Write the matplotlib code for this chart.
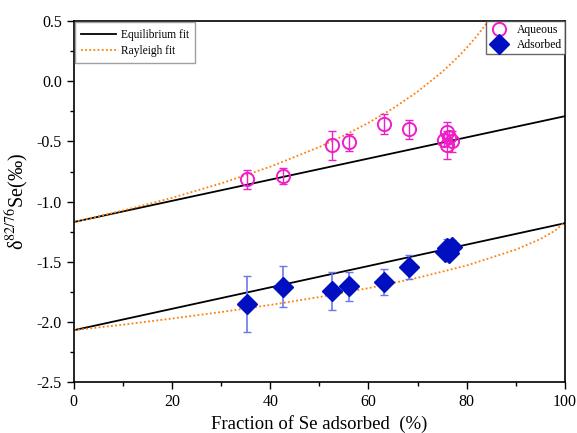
import numpy as np
import matplotlib
matplotlib.use('Agg')
import matplotlib.pyplot as plt
from matplotlib.ticker import MultipleLocator

plt.rcParams['font.family'] = ['Liberation Serif', 'DejaVu Serif']
plt.rcParams['mathtext.fontset'] = 'stix'

# measured points (fraction adsorbed %, delta, error)
aq_x = [35.2, 42.6, 52.5, 56.0, 63.1, 68.2, 75.9, 75.4, 76.0, 77.0, 76.5]
aq_y = [-0.816, -0.788, -0.531, -0.508, -0.354, -0.398, -0.42, -0.49, -0.53, -0.50, -0.46]
aq_err = [0.08, 0.065, 0.12, 0.07, 0.08, 0.08, 0.08, 0.05, 0.12, 0.09, 0.05]

ads_x = [35.2, 42.6, 52.5, 56.0, 63.1, 68.3, 75.5, 76.0, 77.0, 76.5]
ads_y = [-1.852, -1.708, -1.742, -1.703, -1.667, -1.545, -1.42, -1.39, -1.38, -1.43]
ads_err = [0.23, 0.17, 0.16, 0.12, 0.11, 0.10, 0.05, 0.08, 0.06, 0.04]

# fit curves
eq_x = [0, 100]
eq_aq = [-1.17, -0.29]
eq_ads = [-2.07, -1.18]

ray_aq_x = [0, 10, 20, 30, 40, 50, 55, 60, 65, 70, 75, 78, 80, 82, 84, 85]
ray_aq_y = [-1.17, -1.075, -0.969, -0.849, -0.710, -0.546, -0.451, -0.345, -0.225,
            -0.086, 0.078, 0.193, 0.279, 0.373, 0.479, 0.538]
ray_ads_x = [0, 10, 20, 30, 40, 50, 60, 70, 80, 90, 95, 98, 100]
ray_ads_y = [-2.07, -2.024, -1.973, -1.919, -1.860, -1.794, -1.720, -1.634, -1.532,
             -1.400, -1.312, -1.242, -1.17]

fig = plt.figure(figsize=(5.77, 4.33), dpi=100)
ax = fig.add_axes([0.128, 0.118, 0.851, 0.833])

l1, = ax.plot(eq_x, eq_aq, color='black', lw=1.3, label='Equilibrium fit')
ax.plot(eq_x, eq_ads, color='black', lw=1.3)
l2, = ax.plot(ray_aq_x, ray_aq_y, color='#ff7f0e', lw=1.3, ls=(0, (1, 1.3)), label='Rayleigh fit')
ax.plot(ray_ads_x, ray_ads_y, color='#ff7f0e', lw=1.3, ls=(0, (1, 1.3)))

ax.errorbar(aq_x, aq_y, yerr=aq_err, fmt='none', ecolor='#f01ec8', elinewidth=1, capsize=3, zorder=3)
p1, = ax.plot(aq_x, aq_y, 'o', ms=9.5, mfc='none', mec='#f01ec8', mew=1.4, ls='none', label='Aqueous', zorder=4)
ax.errorbar(ads_x, ads_y, yerr=ads_err, fmt='none', ecolor='#6a78f0', elinewidth=1.2, capsize=3, zorder=3)
p2, = ax.plot(ads_x, ads_y, 'D', ms=10, color='#0010c0', ls='none', label='Adsorbed', zorder=4)

ax.set_xlim(0, 100)
ax.set_ylim(-2.5, 0.5)
ax.xaxis.set_major_locator(MultipleLocator(20))
ax.xaxis.set_minor_locator(MultipleLocator(10))
ax.yaxis.set_major_locator(MultipleLocator(0.5))
ax.yaxis.set_minor_locator(MultipleLocator(0.25))
ax.yaxis.set_major_formatter(matplotlib.ticker.FormatStrFormatter('%.1f'))
ax.tick_params(which='major', direction='out', length=5, width=1, labelsize=11.5)
ax.tick_params(which='minor', direction='out', length=3, width=1)
for s in ax.spines.values():
    s.set_linewidth(1.2)

ax.set_xlabel('Fraction of Se adsorbed  (%)', fontsize=13.5)
ax.set_ylabel('δ$^{\\mathrm{82/76}}$Se(‰)', fontsize=14.5)

leg1 = ax.legend(handles=[l1, l2], loc='upper left', fontsize=8.3, frameon=True,
                 fancybox=False, edgecolor='#888888', borderaxespad=0.1, handlelength=3.0,
                 labelspacing=0.35, borderpad=0.55, handletextpad=0.4)
leg1.get_frame().set_linewidth(1)
ax.add_artist(leg1)
leg2 = ax.legend(handles=[p1, p2], loc='upper right', fontsize=8.4, frameon=True,
                 fancybox=False, edgecolor='#444444', borderaxespad=0.0, handlelength=1.8,
                 borderpad=0.25, labelspacing=0.25, handletextpad=0.6)
leg2.get_frame().set_linewidth(1)

fig.savefig('out.png', dpi=100)
